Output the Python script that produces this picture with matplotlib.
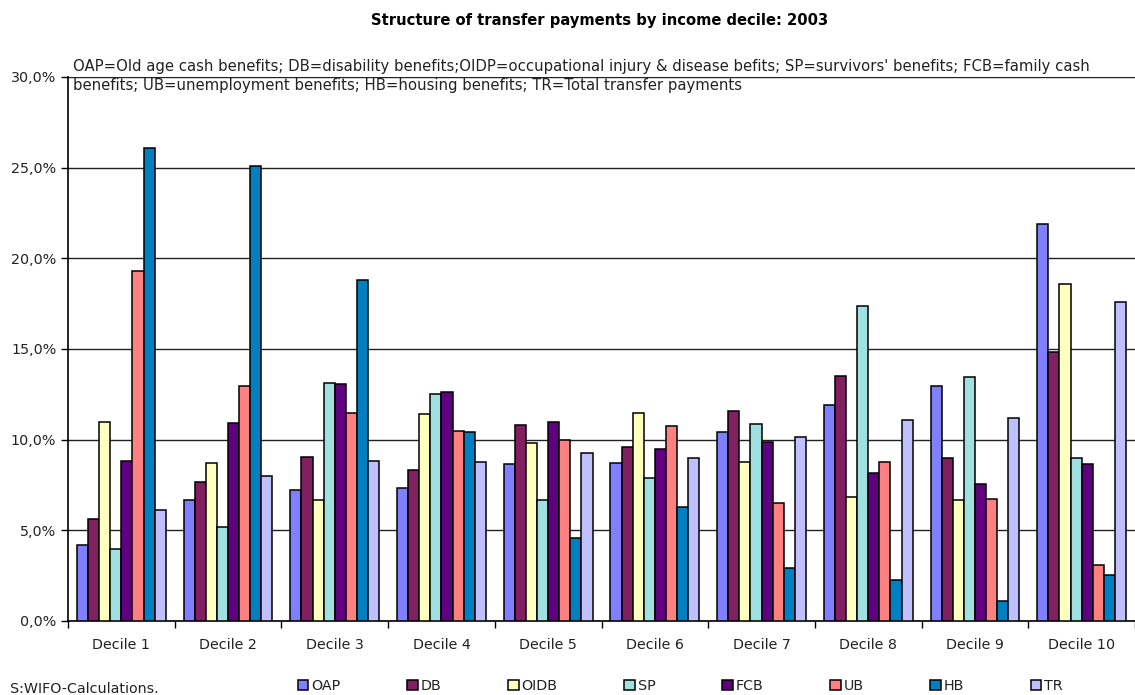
import numpy as np
import matplotlib as mpl
mpl.use('Agg')
import matplotlib.pyplot as plt
from matplotlib.ticker import FuncFormatter, FixedLocator

deciles = ["Decile 1", "Decile 2", "Decile 3", "Decile 4", "Decile 5",
           "Decile 6", "Decile 7", "Decile 8", "Decile 9", "Decile 10"]
series = ["OAP", "DB", "OIDB", "SP", "FCB", "UB", "HB", "TR"]
colors = ["#8080FF", "#802060", "#FFFFC0", "#A0E0E0", "#600080", "#FF8080", "#0080C0", "#C0C0FF"]

# shares in % per decile
oap  = [4.2, 6.65, 7.2, 7.35, 8.65, 8.7, 10.45, 11.9, 12.95, 21.9]
db   = [5.6, 7.65, 9.05, 8.3, 10.8, 9.6, 11.6, 13.5, 9.0, 14.85]
oidb = [11.0, 8.7, 6.7, 11.4, 9.8, 11.45, 8.75, 6.85, 6.7, 18.6]
sp   = [3.95, 5.2, 13.1, 12.5, 6.7, 7.9, 10.85, 17.35, 13.45, 9.0]
fcb  = [8.85, 10.9, 13.05, 12.65, 10.95, 9.5, 9.85, 8.15, 7.55, 8.65]
ub   = [19.3, 12.95, 11.45, 10.5, 10.0, 10.75, 6.5, 8.75, 6.75, 3.1]
hb   = [26.1, 25.1, 18.8, 10.4, 4.55, 6.3, 2.9, 2.25, 1.1, 2.55]
tr   = [6.1, 8.0, 8.85, 8.75, 9.25, 9.0, 10.15, 11.1, 11.2, 17.6]
values = [oap, db, oidb, sp, fcb, ub, hb, tr]

note = ("OAP=Old age cash benefits; DB=disability benefits;OIDP=occupational injury & disease befits; "
        "SP=survivors' benefits; FCB=family cash\nbenefits; UB=unemployment benefits; "
        "HB=housing benefits; TR=Total transfer payments")

plt.rcParams['font.family'] = ['DejaVu Sans']

fig = plt.figure(figsize=(11.35, 6.95), dpi=100)
ax = fig.add_axes([68/1135, 74/695, 1 - 68/1135, (621-77)/695])

x = np.arange(len(deciles))
w = 0.104
for i, (name, vals) in enumerate(zip(series, values)):
    ax.bar(x + (i - 3.5)*w, vals, w, color=colors[i], edgecolor="black",
           linewidth=1.1, label=name, zorder=3)

ax.set_xlim(-0.5, len(deciles) - 0.5)
ax.set_ylim(0, 30)
ax.yaxis.set_major_locator(FixedLocator(np.arange(0, 31, 5)))
ax.yaxis.set_major_formatter(FuncFormatter(lambda v, p: ("%.1f%%" % v).replace(".", ",")))
ax.grid(axis="y", color="#222222", linewidth=1, zorder=0)
ax.set_xticks(x)
ax.set_xticklabels(deciles, fontsize=10.3, color="#222222")
ax.xaxis.set_minor_locator(FixedLocator(np.arange(-0.5, len(deciles), 1)))
ax.tick_params(axis="x", which="major", length=0, pad=12)
ax.tick_params(axis="x", which="minor", length=5, width=1)
ax.tick_params(axis="y", length=5, width=1, labelsize=10.3, labelcolor="#222222")
for s in ["top", "right"]:
    ax.spines[s].set_visible(False)
ax.spines["left"].set_linewidth(1.2)
ax.spines["bottom"].set_linewidth(1.2)

# explanatory note across the top of the plot
fig.text(73/1135, 1 - 59/695, note, fontsize=10.7, va="top", ha="left",
         linespacing=1.3, color="#222222")

fig.text(600/1135, 1 - 20/695, "Structure of transfer payments by income decile: 2003",
         fontsize=10.6, fontweight="bold", ha="center", va="center")

fig.legend(loc="center left", bbox_to_anchor=(292/1135, 1 - 686/695), ncol=8, frameon=False,
           fontsize=10.3, handlelength=0.75, handleheight=0.75, handletextpad=0.2,
           columnspacing=4.65, borderaxespad=0, labelcolor="#222222")

fig.text(10/1135, 1 - 689/695, "S:WIFO-Calculations.", fontsize=10.3, ha="left",
         va="center", color="#222222")

fig.savefig("out.png", dpi=100)
